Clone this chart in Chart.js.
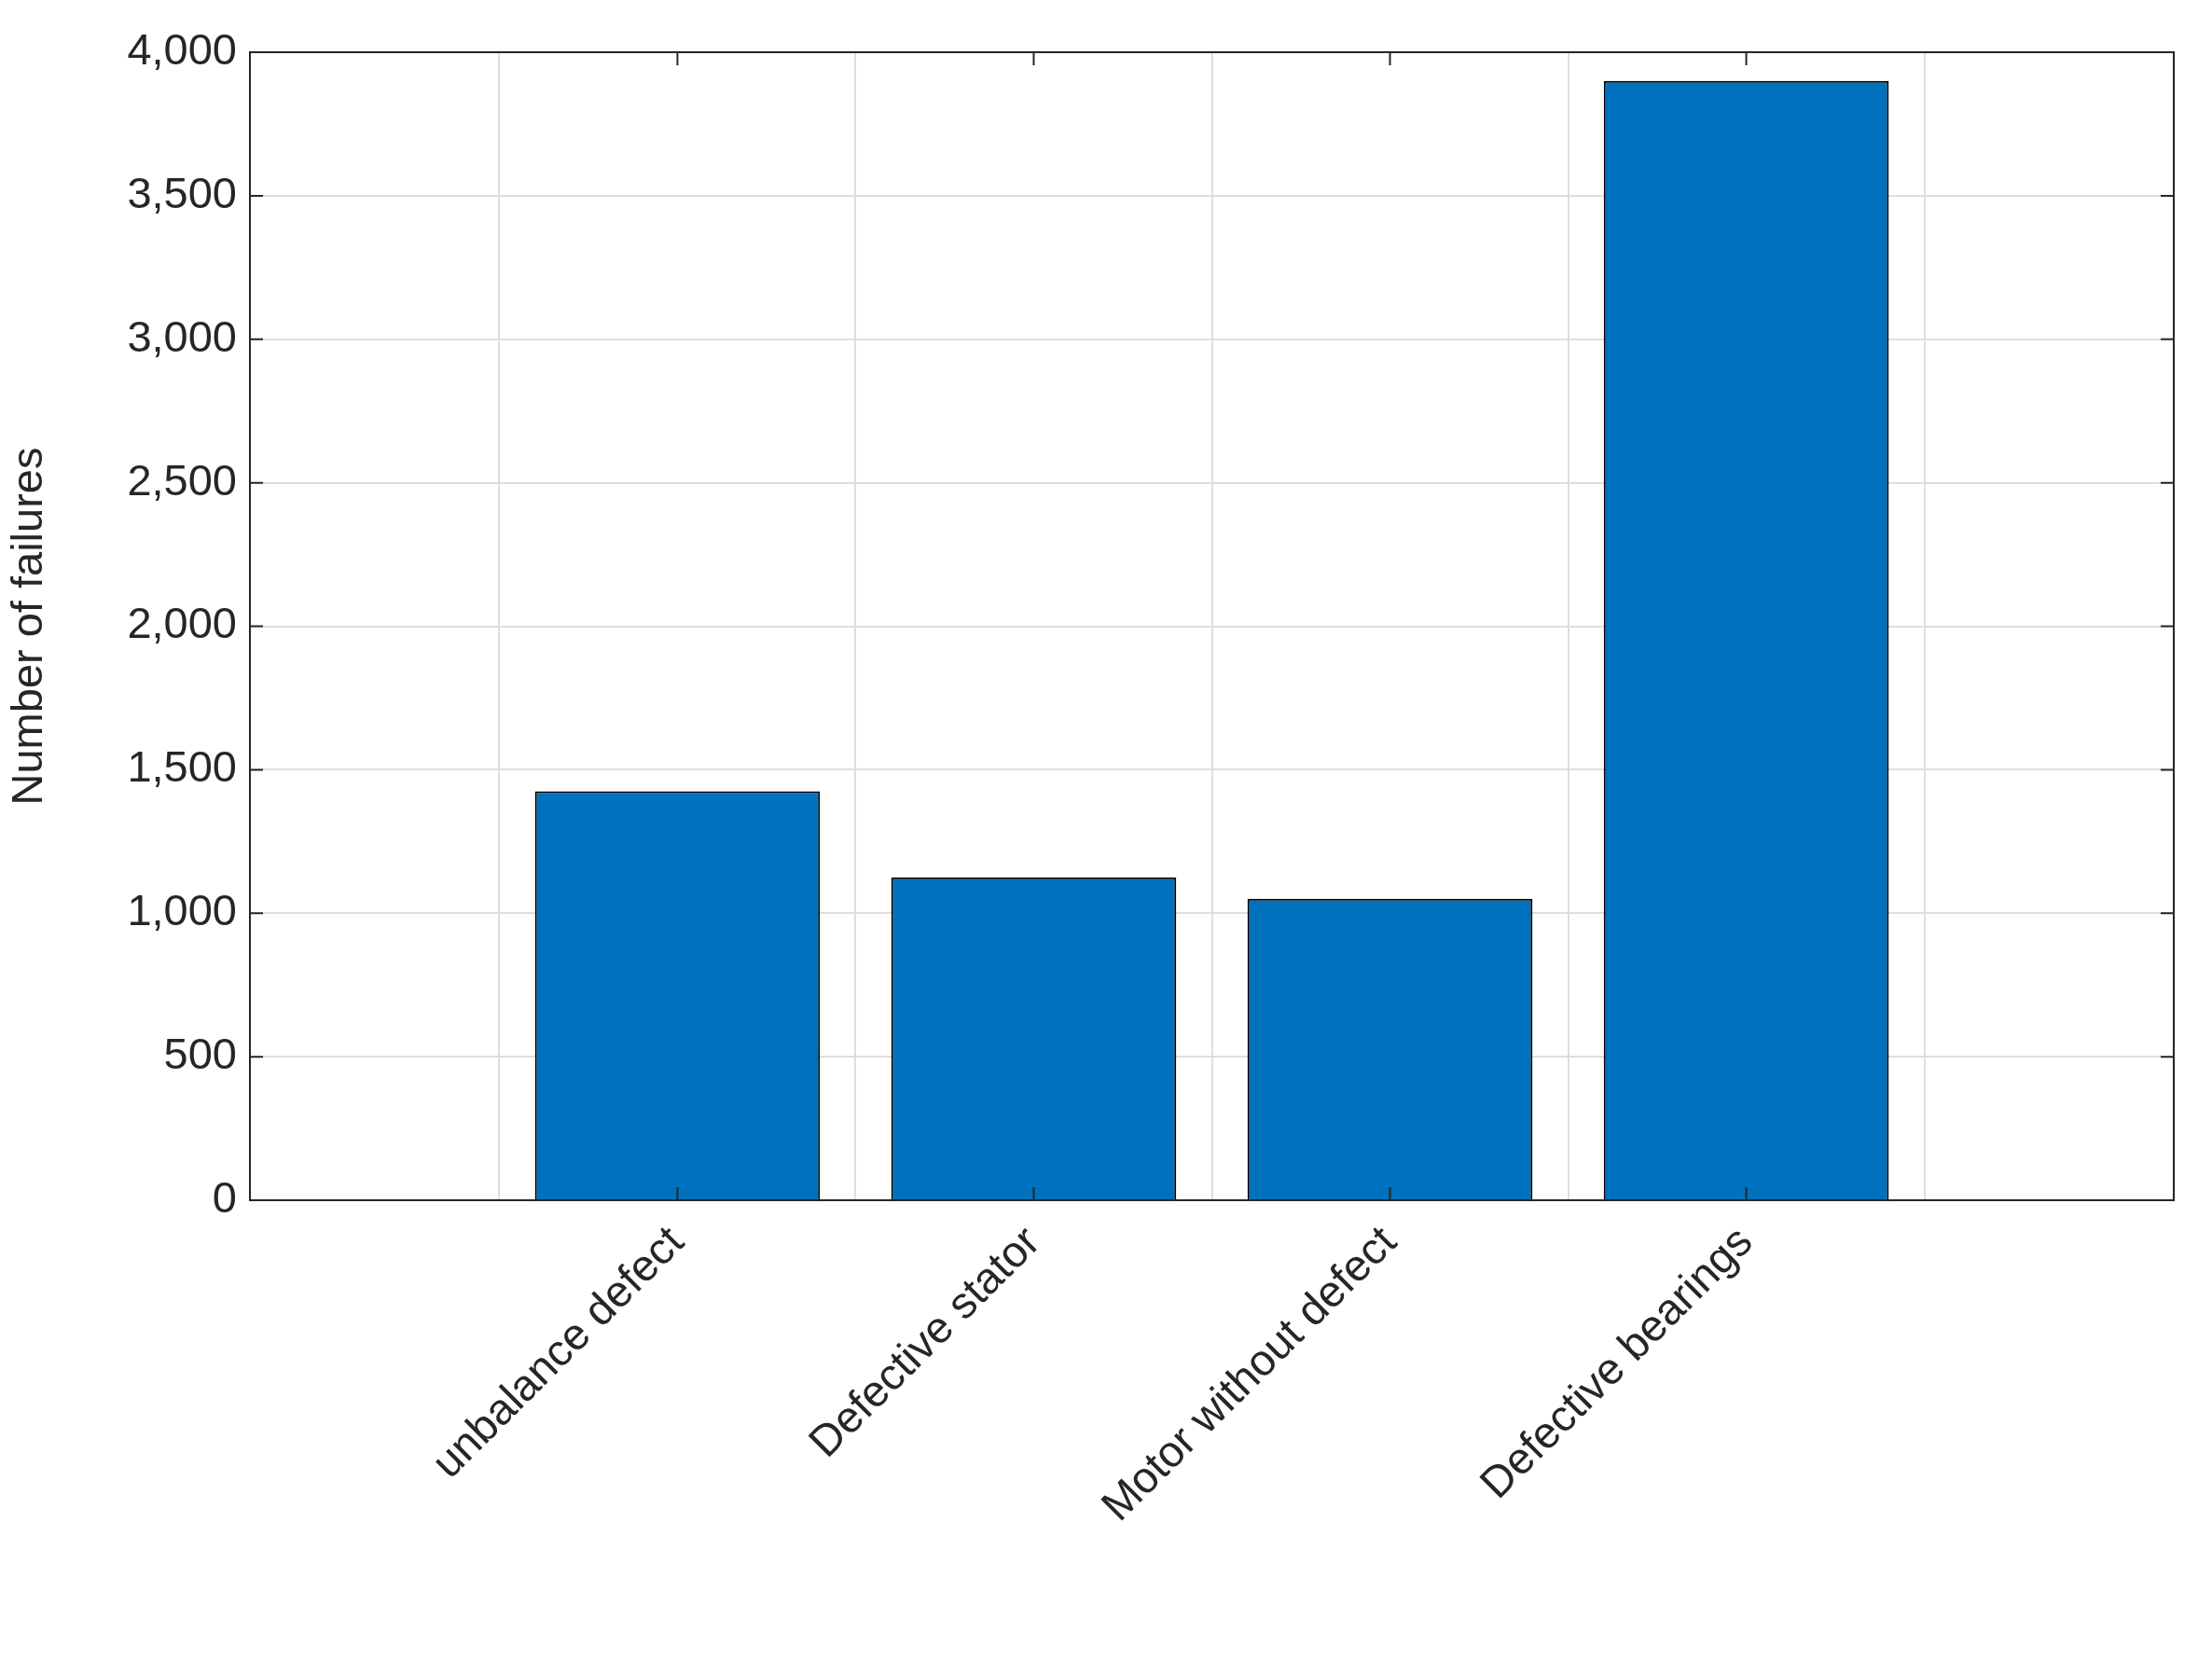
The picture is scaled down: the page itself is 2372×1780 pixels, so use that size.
<!DOCTYPE html>
<html><head><meta charset="utf-8">
<script src="https://cdn.jsdelivr.net/npm/chart.js@4/dist/chart.umd.min.js"></script>
<style>html,body{margin:0;padding:0;background:#fff}#w{width:2372px;height:1780px}</style>
</head><body><div id="w"><canvas id="c"></canvas></div>
<script>
const categories = ['unbalance defect','Defective stator','Motor without defect','Defective bearings'];
const failures = [1425, 1125, 1050, 3900];
const yTicks = [0,500,1000,1500,2000,2500,3000,3500,4000];
const F = "'Liberation Sans', Arial, sans-serif";
const frame = {
  id:'frame',
  afterDraw(ch){
    const {ctx, chartArea:a, scales:{x,y}} = ch;
    ctx.save(); ctx.strokeStyle='#262626'; ctx.lineWidth=2;
    ctx.strokeRect(a.left,a.top,a.right-a.left,a.bottom-a.top);
    ctx.beginPath();
    const L=14;
    yTicks.forEach(v=>{const p=y.getPixelForValue(v);ctx.moveTo(a.left,p);ctx.lineTo(a.left+L,p);ctx.moveTo(a.right,p);ctx.lineTo(a.right-L,p);});
    categories.forEach((c,i)=>{const p=x.getPixelForValue(i+1);ctx.moveTo(p,a.bottom);ctx.lineTo(p,a.bottom-L);ctx.moveTo(p,a.top);ctx.lineTo(p,a.top+L);});
    ctx.stroke(); ctx.restore();
  }
};
new Chart(document.getElementById('c'),{
  type:'bar',
  data:{datasets:[{data:failures.map((v,i)=>({x:i+1,y:v})),backgroundColor:'#0072BD',borderColor:'#000',borderWidth:2,barPercentage:0.8,categoryPercentage:1}]},
  options:{responsive:true,maintainAspectRatio:false,animation:false,
    layout:{padding:{top:56,right:41,left:0,bottom:0}},
    plugins:{legend:{display:false},tooltip:{enabled:false}},
    scales:{
      x:{type:'linear',min:-0.2,max:5.2,offset:false,
        afterBuildTicks(s){s.ticks=categories.map((c,i)=>({value:i+1}));},
        afterFit(s){s.height=1780-1287;},
        grid:{color:'#dedede',lineWidth:2,drawTicks:false},border:{display:false},
        ticks:{autoSkip:false,maxRotation:45,minRotation:45,padding:18,color:'#262626',font:{family:F,size:47},callback:(v)=>categories[v-1]||''}},
      y:{min:0,max:4000,
        afterBuildTicks(s){s.ticks=yTicks.map(v=>({value:v}));},
        afterFit(s){s.width=268;},
        grid:{color:'#dedede',lineWidth:2,drawTicks:false},border:{display:false},
        ticks:{padding:14,color:'#262626',font:{family:F,size:47}},
        title:{display:true,text:'Number of failures',color:'#262626',font:{family:F,size:47},padding:{bottom:10}}}
    }},
  plugins:[frame]
});
</script></body></html>
